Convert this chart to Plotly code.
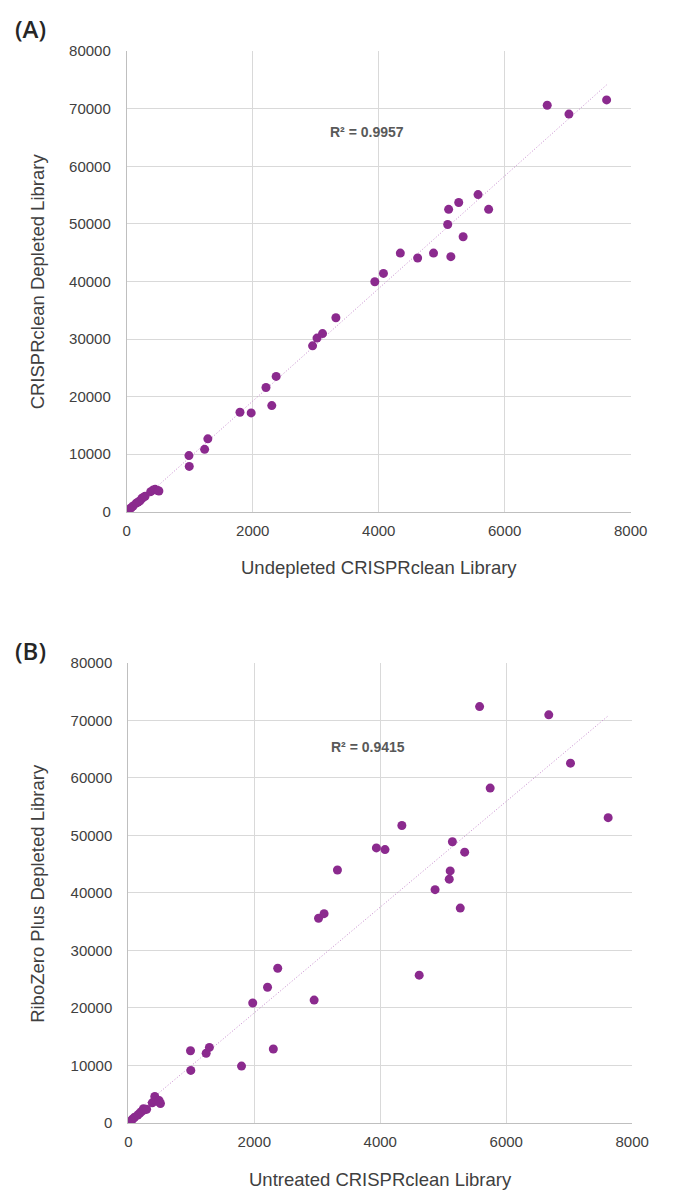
import numpy as np
import plotly.graph_objects as go

# ---------------- data ----------------
# untreated / undepleted CRISPRclean library counts (shared x)
x_counts = [5, 15, 30, 50, 70, 100, 150, 180, 210, 240, 260, 290, 380, 420, 450, 490, 510,
            987, 992, 1236, 1287, 1797, 1975, 2210, 2302, 2372, 2950, 3020, 3108, 3320,
            3938, 4075, 4343, 4618, 4870, 5095, 5110, 5145, 5270, 5340, 5577, 5745,
            6675, 7020, 7618]
# panel A: CRISPRclean depleted library
y_depleted = [50, 150, 300, 500, 700, 1000, 1500, 1700, 1900, 2300, 2500, 2700, 3500, 3800, 3900, 3700, 3600,
              9760, 7880, 10840, 12670, 17290, 17170, 21575, 18440, 23510, 28820, 30160, 30940, 33700,
              39950, 41390, 44920, 44060, 44920, 49880, 52520, 44300, 53710, 47770, 55080, 52520,
              70600, 69060, 71520]
# panel B: RiboZero Plus depleted library
y_ribozero = [50, 150, 300, 500, 700, 1000, 1400, 1700, 2000, 2500, 2300, 2400, 3500, 4600, 3800, 3900, 3400,
              12570, 9140, 12120, 13140, 9890, 20860, 23600, 12860, 26900, 21370, 35600, 36400, 44000,
              47830, 47540, 51720, 25710, 40570, 42400, 43830, 48910, 37370, 47090, 72400, 58230,
              70970, 62570, 53090]

r2_labels = ["R² = 0.9957", "R² = 0.9415"]
x_titles = ["Undepleted CRISPRclean Library", "Untreated CRISPRclean Library"]
y_titles = ["CRISPRclean Depleted Library", "RiboZero Plus Depleted Library"]
panel_labels = ["(A)", "(B)"]
x_ticks = [0, 2000, 4000, 6000, 8000]
y_ticks = [0, 10000, 20000, 30000, 40000, 50000, 60000, 70000, 80000]

# ---------------- style ----------------
W, H = 678, 1201
PURPLE = "#8B2A8E"
TREND = "#C68ACD"
GRID = "#D9D9D9"
AXIS = "#BFBFBF"
TXT = "#404040"
FAM = "'Liberation Sans', Arial, sans-serif"
TICKFONT = dict(family=FAM, size=15, color=TXT)

# plot areas in pixels: (left, top, right, bottom)
boxes = [(126.7, 42.7, 646.7, 510.0), (128.3, 663.3, 648.3, 1130.0)]
r2_pos = [(3820, 65900), (3800, 65300)]

fig = go.Figure()
ys = [y_depleted, y_ribozero]
annotations = []
for i in range(2):
    xa = "x" if i == 0 else "x2"
    ya = "y" if i == 0 else "y2"
    xarr = np.array(x_counts, dtype=float)
    yarr = np.array(ys[i], dtype=float)
    m, b = np.polyfit(xarr, yarr, 1)
    xl = np.array([xarr.min(), xarr.max()])
    fig.add_trace(go.Scatter(x=xl, y=m * xl + b, mode="lines", xaxis=xa, yaxis=ya,
                             line=dict(color=TREND, width=1, dash="1px,2px"),
                             hoverinfo="skip", showlegend=False))
    fig.add_trace(go.Scatter(x=x_counts, y=ys[i], mode="markers", xaxis=xa, yaxis=ya,
                             marker=dict(color=PURPLE, size=9, line=dict(width=0)),
                             showlegend=False))
    l, t, r, btm = boxes[i]
    xdom = [l / W, r / W]
    ydom = [1 - btm / H, 1 - t / H]
    axkw = dict(showgrid=True, gridcolor=GRID, gridwidth=1, zeroline=False,
                showline=True, linecolor=AXIS, linewidth=1, ticks="",
                tickfont=TICKFONT, fixedrange=True, tickformat="d")
    xkey = "xaxis" if i == 0 else "xaxis2"
    ykey = "yaxis" if i == 0 else "yaxis2"
    fig.update_layout(**{
        xkey: dict(domain=xdom, range=[0, 8000], tickvals=x_ticks, anchor=ya,
                   ticklabelstandoff=5, **axkw),
        ykey: dict(domain=ydom, range=[0, 80000], tickvals=y_ticks, anchor=xa,
                   ticklabelstandoff=12, **axkw),
    })
    # R² label
    annotations.append(dict(x=r2_pos[i][0], y=r2_pos[i][1], xref=xa, yref=ya,
                            text="<b>" + r2_labels[i] + "</b>", showarrow=False,
                            font=dict(family=FAM, size=14, color="#595959")))
    # axis titles
    annotations.append(dict(x=(l + r) / 2 / W, y=1 - (btm + 57) / H, xref="paper", yref="paper",
                            text=x_titles[i], showarrow=False, xanchor="center", yanchor="middle",
                            font=dict(family=FAM, size=18.5, color=TXT)))
    annotations.append(dict(x=35 / W, y=1 - (t + btm) / 2 / H, xref="paper", yref="paper",
                            text=y_titles[i], showarrow=False, textangle=-90,
                            xanchor="center", yanchor="middle",
                            font=dict(family=FAM, size=18.5, color=TXT)))
    # panel label
    pl_y = [20, 651][i]
    annotations.append(dict(x=9 / W, y=1 - pl_y / H, xref="paper", yref="paper",
                            text=panel_labels[i], showarrow=False, xanchor="left", yanchor="middle",
                            font=dict(family="'Open Sans', 'Noto Sans', sans-serif", size=24,
                                      color="#262626", weight=600)))

fig.update_layout(width=W, height=H, margin=dict(l=0, r=0, t=0, b=0),
                  paper_bgcolor="white", plot_bgcolor="white",
                  annotations=annotations, showlegend=False)
fig.write_html("out.html", config={"displayModeBar": False})
